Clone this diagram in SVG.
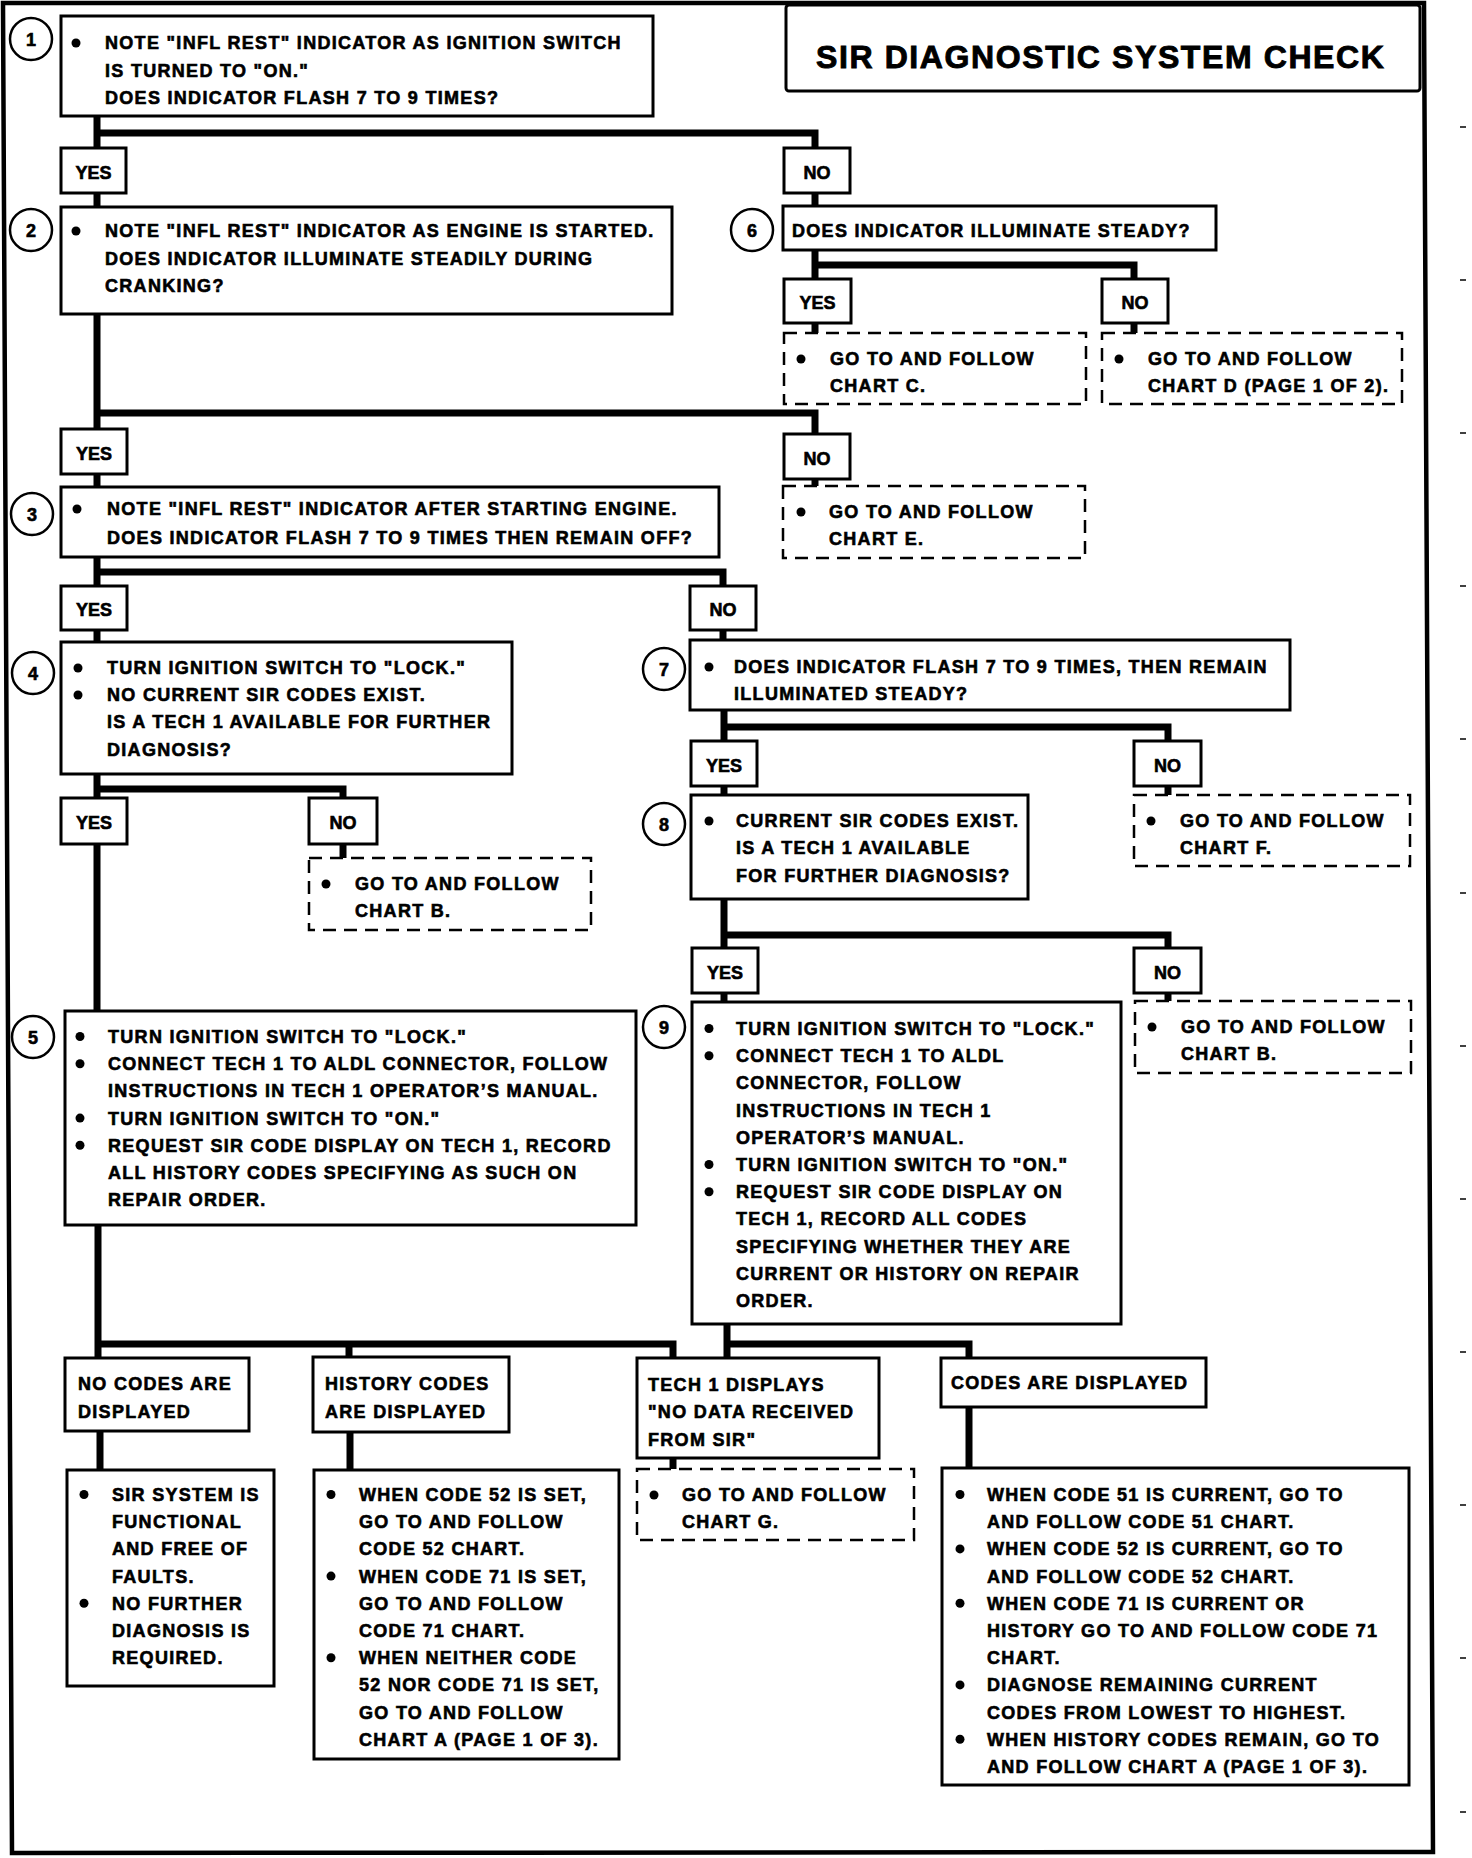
<svg xmlns="http://www.w3.org/2000/svg" width="1472" height="1858" viewBox="0 0 1472 1858">
<style>
.bg{fill:#fff}
.frame{fill:none;stroke:#000;stroke-width:4.5}
.box{fill:#fff;stroke:#000;stroke-width:3}
.dash{fill:#fff;stroke:#000;stroke-width:2.5;stroke-dasharray:13 8}
.conn{fill:none;stroke:#000;stroke-width:7;stroke-linejoin:miter;stroke-linecap:butt}
.num{fill:#fff;stroke:#000;stroke-width:2.5}
.b{fill:#000}
.t{font-family:"Liberation Sans",Arial,sans-serif;font-weight:bold;font-size:18px;letter-spacing:1.3px;fill:#000;stroke:#000;stroke-width:0.6}
.c{text-anchor:middle;letter-spacing:0}
.title{font-family:"Liberation Sans",Arial,sans-serif;font-weight:bold;font-size:32px;letter-spacing:1.6px;fill:#000;stroke:#000;stroke-width:0.9}
.tick{stroke:#000;stroke-width:1.5}
</style>
<rect class="bg" x="0" y="0" width="1472" height="1858"/>
<polygon class="frame" points="3,3 1424,3 1433,1852 12,1853"/>
<g id="ticks">
<line class="tick" x1="1460" y1="127" x2="1466" y2="127"/>
<line class="tick" x1="1460" y1="280" x2="1466" y2="280"/>
<line class="tick" x1="1460" y1="433" x2="1466" y2="433"/>
<line class="tick" x1="1460" y1="586" x2="1466" y2="586"/>
<line class="tick" x1="1460" y1="739" x2="1466" y2="739"/>
<line class="tick" x1="1460" y1="893" x2="1466" y2="893"/>
<line class="tick" x1="1460" y1="1046" x2="1466" y2="1046"/>
<line class="tick" x1="1460" y1="1199" x2="1466" y2="1199"/>
<line class="tick" x1="1460" y1="1352" x2="1466" y2="1352"/>
<line class="tick" x1="1460" y1="1505" x2="1466" y2="1505"/>
<line class="tick" x1="1460" y1="1658" x2="1466" y2="1658"/>
<line class="tick" x1="1460" y1="1812" x2="1466" y2="1812"/>
</g>
<g id="connectors">
<path class="conn" d="M97,116 V148 M97,133 H815 V148"/>
<path class="conn" d="M97,193 V207"/>
<path class="conn" d="M815,193 V206"/>
<path class="conn" d="M97,314 V429 M97,413 H815 V434"/>
<path class="conn" d="M97,474 V487"/>
<path class="conn" d="M815,250 V279 M815,265 H1134 V279"/>
<path class="conn" d="M815,323 V333"/>
<path class="conn" d="M1134,323 V333"/>
<path class="conn" d="M815,479 V486"/>
<path class="conn" d="M97,557 V586 M97,572 H723 V586"/>
<path class="conn" d="M97,630 V642"/>
<path class="conn" d="M723,630 V640"/>
<path class="conn" d="M97,774 V798 M97,789 H343 V798"/>
<path class="conn" d="M343,844 V858"/>
<path class="conn" d="M97,844 V1011"/>
<path class="conn" d="M724,710 V741 M724,727 H1168 V741"/>
<path class="conn" d="M1168,786 V795"/>
<path class="conn" d="M724,786 V795"/>
<path class="conn" d="M724,899 V948 M724,935 H1168 V948"/>
<path class="conn" d="M1168,993 V1001"/>
<path class="conn" d="M724,993 V1002"/>
<path class="conn" d="M98,1225 V1358 M98,1344 H673 V1358 M349,1344 V1357"/>
<path class="conn" d="M727,1324 V1358 M727,1344 H969 V1358"/>
<path class="conn" d="M100,1431 V1470"/>
<path class="conn" d="M350,1432 V1470"/>
<path class="conn" d="M673,1458 V1469"/>
<path class="conn" d="M969,1407 V1468"/>
</g>
<g id="title">
<rect class="box" x="786" y="5" width="634" height="86" rx="3"/>
<text class="title" x="816" y="68">SIR DIAGNOSTIC SYSTEM CHECK</text>
</g>
<g id="n1">
<circle class="num" cx="31" cy="39" r="21"/>
<text class="t c" x="31" y="45.5">1</text>
<rect class="box" x="61" y="16" width="592" height="100"/>
<circle class="b" cx="76" cy="43" r="4.5"/>
<text class="t" x="105" y="49">NOTE "INFL REST" INDICATOR AS IGNITION SWITCH</text>
<text class="t" x="105" y="76.5">IS TURNED TO "ON."</text>
<text class="t" x="105" y="104">DOES INDICATOR FLASH 7 TO 9 TIMES?</text>
</g>
<g id="yes1"><rect class="box" x="61" y="148" width="65" height="45"/><text class="t c" x="93.5" y="179">YES</text></g>
<g id="no1"><rect class="box" x="784" y="148" width="66" height="45"/><text class="t c" x="817" y="179">NO</text></g>
<g id="n2">
<circle class="num" cx="31" cy="230" r="21"/>
<text class="t c" x="31" y="236.5">2</text>
<rect class="box" x="61" y="207" width="611" height="107"/>
<circle class="b" cx="76" cy="231" r="4.5"/>
<text class="t" x="105" y="237">NOTE "INFL REST" INDICATOR AS ENGINE IS STARTED.</text>
<text class="t" x="105" y="265">DOES INDICATOR ILLUMINATE STEADILY DURING</text>
<text class="t" x="105" y="292">CRANKING?</text>
</g>
<g id="n6">
<circle class="num" cx="752" cy="230" r="21"/>
<text class="t c" x="752" y="236.5">6</text>
<rect class="box" x="783" y="206" width="433" height="44"/>
<text class="t" x="792" y="237">DOES INDICATOR ILLUMINATE STEADY?</text>
</g>
<g id="yes6"><rect class="box" x="784" y="279" width="67" height="44"/><text class="t c" x="817.5" y="309">YES</text></g>
<g id="no6"><rect class="box" x="1102" y="279" width="66" height="44"/><text class="t c" x="1135" y="309">NO</text></g>
<g id="chartC">
<rect class="dash" x="784" y="333" width="302" height="71"/>
<circle class="b" cx="801" cy="359" r="4.5"/>
<text class="t" x="830" y="365">GO TO AND FOLLOW</text>
<text class="t" x="830" y="392">CHART C.</text>
</g>
<g id="chartD">
<rect class="dash" x="1102" y="333" width="300" height="71"/>
<circle class="b" cx="1119" cy="359" r="4.5"/>
<text class="t" x="1148" y="365">GO TO AND FOLLOW</text>
<text class="t" x="1148" y="392">CHART D (PAGE 1 OF 2).</text>
</g>
<g id="yes2"><rect class="box" x="61" y="429" width="66" height="45"/><text class="t c" x="94" y="460">YES</text></g>
<g id="no2"><rect class="box" x="784" y="434" width="66" height="45"/><text class="t c" x="817" y="465">NO</text></g>
<g id="chartE">
<rect class="dash" x="783" y="486" width="302" height="72"/>
<circle class="b" cx="801" cy="512" r="4.5"/>
<text class="t" x="829" y="518">GO TO AND FOLLOW</text>
<text class="t" x="829" y="545">CHART E.</text>
</g>
<g id="n3">
<circle class="num" cx="32" cy="514" r="21"/>
<text class="t c" x="32" y="520.5">3</text>
<rect class="box" x="61" y="487" width="658" height="70"/>
<circle class="b" cx="77" cy="509" r="4.5"/>
<text class="t" x="107" y="515">NOTE "INFL REST" INDICATOR AFTER STARTING ENGINE.</text>
<text class="t" x="107" y="544">DOES INDICATOR FLASH 7 TO 9 TIMES THEN REMAIN OFF?</text>
</g>
<g id="yes3"><rect class="box" x="61" y="586" width="66" height="44"/><text class="t c" x="94" y="616">YES</text></g>
<g id="no3"><rect class="box" x="690" y="586" width="66" height="44"/><text class="t c" x="723" y="616">NO</text></g>
<g id="n4">
<circle class="num" cx="33" cy="673" r="21"/>
<text class="t c" x="33" y="679.5">4</text>
<rect class="box" x="61" y="642" width="451" height="132"/>
<circle class="b" cx="78" cy="668" r="4.5"/>
<circle class="b" cx="78" cy="695" r="4.5"/>
<text class="t" x="107" y="674">TURN IGNITION SWITCH TO "LOCK."</text>
<text class="t" x="107" y="701">NO CURRENT SIR CODES EXIST.</text>
<text class="t" x="107" y="728">IS A TECH 1 AVAILABLE FOR FURTHER</text>
<text class="t" x="107" y="756">DIAGNOSIS?</text>
</g>
<g id="yes4"><rect class="box" x="61" y="798" width="66" height="46"/><text class="t c" x="94" y="829">YES</text></g>
<g id="no4"><rect class="box" x="309" y="798" width="68" height="46"/><text class="t c" x="343" y="829">NO</text></g>
<g id="chartB1">
<rect class="dash" x="309" y="858" width="282" height="72"/>
<circle class="b" cx="326" cy="884" r="4.5"/>
<text class="t" x="355" y="890">GO TO AND FOLLOW</text>
<text class="t" x="355" y="917">CHART B.</text>
</g>
<g id="n7">
<circle class="num" cx="664" cy="669" r="21"/>
<text class="t c" x="664" y="675.5">7</text>
<rect class="box" x="690" y="640" width="600" height="70"/>
<circle class="b" cx="709" cy="667" r="4.5"/>
<text class="t" x="734" y="673">DOES INDICATOR FLASH 7 TO 9 TIMES, THEN REMAIN</text>
<text class="t" x="734" y="700">ILLUMINATED STEADY?</text>
</g>
<g id="yes7"><rect class="box" x="691" y="741" width="66" height="45"/><text class="t c" x="724" y="772">YES</text></g>
<g id="no7"><rect class="box" x="1134" y="741" width="67" height="45"/><text class="t c" x="1167.5" y="772">NO</text></g>
<g id="chartF">
<rect class="dash" x="1134" y="795" width="276" height="71"/>
<circle class="b" cx="1151" cy="821" r="4.5"/>
<text class="t" x="1180" y="827">GO TO AND FOLLOW</text>
<text class="t" x="1180" y="854">CHART F.</text>
</g>
<g id="n8">
<circle class="num" cx="664" cy="824" r="21"/>
<text class="t c" x="664" y="830.5">8</text>
<rect class="box" x="691" y="795" width="337" height="104"/>
<circle class="b" cx="709" cy="821" r="4.5"/>
<text class="t" x="736" y="827">CURRENT SIR CODES EXIST.</text>
<text class="t" x="736" y="854">IS A TECH 1 AVAILABLE</text>
<text class="t" x="736" y="882">FOR FURTHER DIAGNOSIS?</text>
</g>
<g id="yes8"><rect class="box" x="692" y="948" width="66" height="45"/><text class="t c" x="725" y="979">YES</text></g>
<g id="no8"><rect class="box" x="1134" y="948" width="67" height="45"/><text class="t c" x="1167.5" y="979">NO</text></g>
<g id="chartB2">
<rect class="dash" x="1135" y="1001" width="276" height="72"/>
<circle class="b" cx="1152" cy="1027" r="4.5"/>
<text class="t" x="1181" y="1033">GO TO AND FOLLOW</text>
<text class="t" x="1181" y="1060">CHART B.</text>
</g>
<g id="n5">
<circle class="num" cx="33" cy="1037" r="21"/>
<text class="t c" x="33" y="1043.5">5</text>
<rect class="box" x="65" y="1011" width="571" height="214"/>
<circle class="b" cx="80" cy="1036.5" r="4.5"/>
<circle class="b" cx="80" cy="1063.7" r="4.5"/>
<circle class="b" cx="80" cy="1118.1" r="4.5"/>
<circle class="b" cx="80" cy="1145.3" r="4.5"/>
<text class="t" x="108" y="1043">TURN IGNITION SWITCH TO "LOCK."</text>
<text class="t" x="108" y="1070.2">CONNECT TECH 1 TO ALDL CONNECTOR, FOLLOW</text>
<text class="t" x="108" y="1097.4">INSTRUCTIONS IN TECH 1 OPERATOR’S MANUAL.</text>
<text class="t" x="108" y="1124.6">TURN IGNITION SWITCH TO "ON."</text>
<text class="t" x="108" y="1151.8">REQUEST SIR CODE DISPLAY ON TECH 1, RECORD</text>
<text class="t" x="108" y="1179">ALL HISTORY CODES SPECIFYING AS SUCH ON</text>
<text class="t" x="108" y="1206.2">REPAIR ORDER.</text>
</g>
<g id="n9">
<circle class="num" cx="664" cy="1027" r="21"/>
<text class="t c" x="664" y="1033.5">9</text>
<rect class="box" x="692" y="1002" width="429" height="322"/>
<circle class="b" cx="709" cy="1028.5" r="4.5"/>
<circle class="b" cx="709" cy="1055.7" r="4.5"/>
<circle class="b" cx="709" cy="1164.5" r="4.5"/>
<circle class="b" cx="709" cy="1191.7" r="4.5"/>
<text class="t" x="736" y="1035">TURN IGNITION SWITCH TO "LOCK."</text>
<text class="t" x="736" y="1062.2">CONNECT TECH 1 TO ALDL</text>
<text class="t" x="736" y="1089.4">CONNECTOR, FOLLOW</text>
<text class="t" x="736" y="1116.6">INSTRUCTIONS IN TECH 1</text>
<text class="t" x="736" y="1143.8">OPERATOR’S MANUAL.</text>
<text class="t" x="736" y="1171">TURN IGNITION SWITCH TO "ON."</text>
<text class="t" x="736" y="1198.2">REQUEST SIR CODE DISPLAY ON</text>
<text class="t" x="736" y="1225.4">TECH 1, RECORD ALL CODES</text>
<text class="t" x="736" y="1252.6">SPECIFYING WHETHER THEY ARE</text>
<text class="t" x="736" y="1279.8">CURRENT OR HISTORY ON REPAIR</text>
<text class="t" x="736" y="1307">ORDER.</text>
</g>
<g id="noCodes">
<rect class="box" x="65" y="1358" width="184" height="73"/>
<text class="t" x="78" y="1390">NO CODES ARE</text>
<text class="t" x="78" y="1418">DISPLAYED</text>
</g>
<g id="historyCodes">
<rect class="box" x="313" y="1357" width="196" height="75"/>
<text class="t" x="325" y="1390">HISTORY CODES</text>
<text class="t" x="325" y="1418">ARE DISPLAYED</text>
</g>
<g id="noData">
<rect class="box" x="637" y="1358" width="242" height="100"/>
<text class="t" x="648" y="1391">TECH 1 DISPLAYS</text>
<text class="t" x="648" y="1418">"NO DATA RECEIVED</text>
<text class="t" x="648" y="1446">FROM SIR"</text>
</g>
<g id="codesDisplayed">
<rect class="box" x="941" y="1358" width="265" height="49"/>
<text class="t" x="951" y="1389">CODES ARE DISPLAYED</text>
</g>
<g id="sirOk">
<rect class="box" x="67" y="1470" width="207" height="216"/>
<circle class="b" cx="84" cy="1494.5" r="4.5"/>
<circle class="b" cx="84" cy="1603.3" r="4.5"/>
<text class="t" x="112" y="1501">SIR SYSTEM IS</text>
<text class="t" x="112" y="1528.2">FUNCTIONAL</text>
<text class="t" x="112" y="1555.4">AND FREE OF</text>
<text class="t" x="112" y="1582.6">FAULTS.</text>
<text class="t" x="112" y="1609.8">NO FURTHER</text>
<text class="t" x="112" y="1637">DIAGNOSIS IS</text>
<text class="t" x="112" y="1664.2">REQUIRED.</text>
</g>
<g id="historyList">
<rect class="box" x="314" y="1470" width="305" height="289"/>
<circle class="b" cx="331" cy="1494.5" r="4.5"/>
<circle class="b" cx="331" cy="1576.1" r="4.5"/>
<circle class="b" cx="331" cy="1657.7" r="4.5"/>
<text class="t" x="359" y="1501">WHEN CODE 52 IS SET,</text>
<text class="t" x="359" y="1528.2">GO TO AND FOLLOW</text>
<text class="t" x="359" y="1555.4">CODE 52 CHART.</text>
<text class="t" x="359" y="1582.6">WHEN CODE 71 IS SET,</text>
<text class="t" x="359" y="1609.8">GO TO AND FOLLOW</text>
<text class="t" x="359" y="1637">CODE 71 CHART.</text>
<text class="t" x="359" y="1664.2">WHEN NEITHER CODE</text>
<text class="t" x="359" y="1691.4">52 NOR CODE 71 IS SET,</text>
<text class="t" x="359" y="1718.6">GO TO AND FOLLOW</text>
<text class="t" x="359" y="1745.8">CHART A (PAGE 1 OF 3).</text>
</g>
<g id="chartG">
<rect class="dash" x="637" y="1469" width="277" height="71"/>
<circle class="b" cx="654" cy="1495" r="4.5"/>
<text class="t" x="682" y="1501">GO TO AND FOLLOW</text>
<text class="t" x="682" y="1528">CHART G.</text>
</g>
<g id="codesList">
<rect class="box" x="942" y="1468" width="467" height="317"/>
<circle class="b" cx="960" cy="1494.5" r="4.5"/>
<circle class="b" cx="960" cy="1548.9" r="4.5"/>
<circle class="b" cx="960" cy="1603.3" r="4.5"/>
<circle class="b" cx="960" cy="1684.9" r="4.5"/>
<circle class="b" cx="960" cy="1739.3" r="4.5"/>
<text class="t" x="987" y="1501">WHEN CODE 51 IS CURRENT, GO TO</text>
<text class="t" x="987" y="1528.2">AND FOLLOW CODE 51 CHART.</text>
<text class="t" x="987" y="1555.4">WHEN CODE 52 IS CURRENT, GO TO</text>
<text class="t" x="987" y="1582.6">AND FOLLOW CODE 52 CHART.</text>
<text class="t" x="987" y="1609.8">WHEN CODE 71 IS CURRENT OR</text>
<text class="t" x="987" y="1637">HISTORY GO TO AND FOLLOW CODE 71</text>
<text class="t" x="987" y="1664.2">CHART.</text>
<text class="t" x="987" y="1691.4">DIAGNOSE REMAINING CURRENT</text>
<text class="t" x="987" y="1718.6">CODES FROM LOWEST TO HIGHEST.</text>
<text class="t" x="987" y="1745.8">WHEN HISTORY CODES REMAIN, GO TO</text>
<text class="t" x="987" y="1773">AND FOLLOW CHART A (PAGE 1 OF 3).</text>
</g>
</svg>
